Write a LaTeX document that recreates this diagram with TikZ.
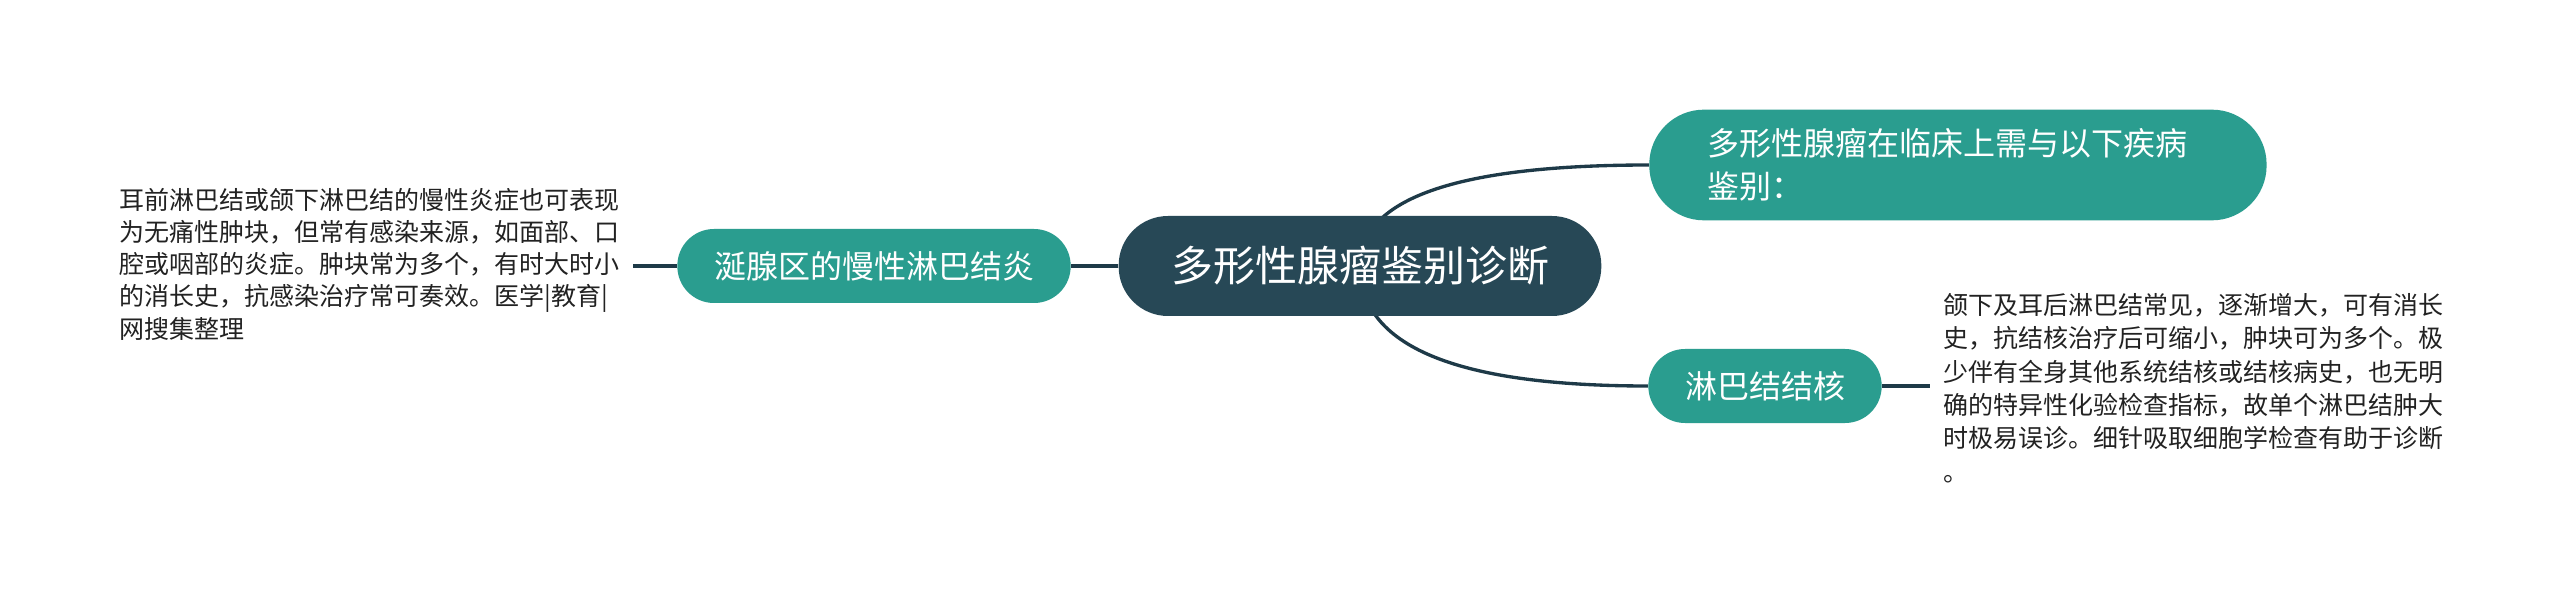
\documentclass[tikz,border=0pt]{standalone}
\usepackage{fontspec}
\setmainfont{Noto Sans CJK SC}
\usetikzlibrary{backgrounds}
\definecolor{rootfill}{RGB}{39,72,86}
\definecolor{branchfill}{RGB}{42,157,143}
\definecolor{linkcolor}{RGB}{30,58,72}
\definecolor{notecolor}{RGB}{34,34,34}
\begin{document}
\begin{tikzpicture}[x=0.75pt,y=0.75pt,yscale=-1,xscale=1,
    rootbox/.style={fill=rootfill, text=white, rounded corners=37pt, minimum width=362pt, minimum height=75pt, inner sep=0pt, font=\fontsize{31.5pt}{38pt}\selectfont},
    branchbox/.style={fill=branchfill, text=white, inner xsep=27.5pt, inner ysep=0pt, minimum height=55.5pt, rounded corners=27.5pt, font=\fontsize{24pt}{30pt}\selectfont},
    notetext/.style={text=notecolor, inner sep=10pt, align=left},
    link/.style={draw=linkcolor, line width=2.5pt}]
        \useasboundingbox (0,0) rectangle (2560,602);
        % Text Node
        \draw (1360,266) node (root) [rootbox] {多形性腺瘤鉴别诊断};
        % Text Node
        \draw (1649,165) node (diff) [anchor=west] [branchbox, align=left, text width=375pt, inner xsep=44pt, minimum height=83pt, rounded corners=41pt, font=\fontsize{24pt}{32.25pt}\selectfont] {多形性腺瘤在临床上需与以下疾病\\鉴别：};
        % Text Node
        \draw (874,266) node (saliv) [branchbox] {涎腺区的慢性淋巴结炎};
        % Text Node
        \draw (1765,386) node (tuber) [branchbox] {淋巴结结核};
        % Text Node
        \draw (106,264) node (salivnote) [anchor=west] [notetext, font=\fontsize{18.75pt}{24.2pt}\selectfont] {耳前淋巴结或颌下淋巴结的慢性炎症也可表现\\为无痛性肿块，但常有感染来源，如面部、口\\腔或咽部的炎症。肿块常为多个，有时大时小\\的消长史，抗感染治疗常可奏效。医学|教育|\\网搜集整理};
        % Text Node
        \draw (1930,388) node (tubernote) [anchor=west] [notetext, font=\fontsize{18.75pt}{25.1pt}\selectfont] {颌下及耳后淋巴结常见，逐渐增大，可有消长\\史，抗结核治疗后可缩小，肿块可为多个。极\\少伴有全身其他系统结核或结核病史，也无明\\确的特异性化验检查指标，故单个淋巴结肿大\\时极易误诊。细针吸取细胞学检查有助于诊断\\。};
        \begin{scope}[on background layer]
        \fill [white] (0,0) rectangle (2560,602);
        % Connection
        \draw [link] (root.center) .. controls +(0,-67.3) and +(-192.7,0) .. (diff.west);
        % Connection
        \draw [link] (root.center) .. controls +(0,80) and +(-192.7,0) .. (tuber.west);
        % Connection
        \draw [link] (root.west) -- (saliv.east);
        % Connection
        \draw [link] (saliv.west) -- (salivnote.east |- saliv.west);
        % Connection
        \draw [link] (tuber.east) -- (tubernote.west |- tuber.east);
        \end{scope}
    \end{tikzpicture}
\end{document}
